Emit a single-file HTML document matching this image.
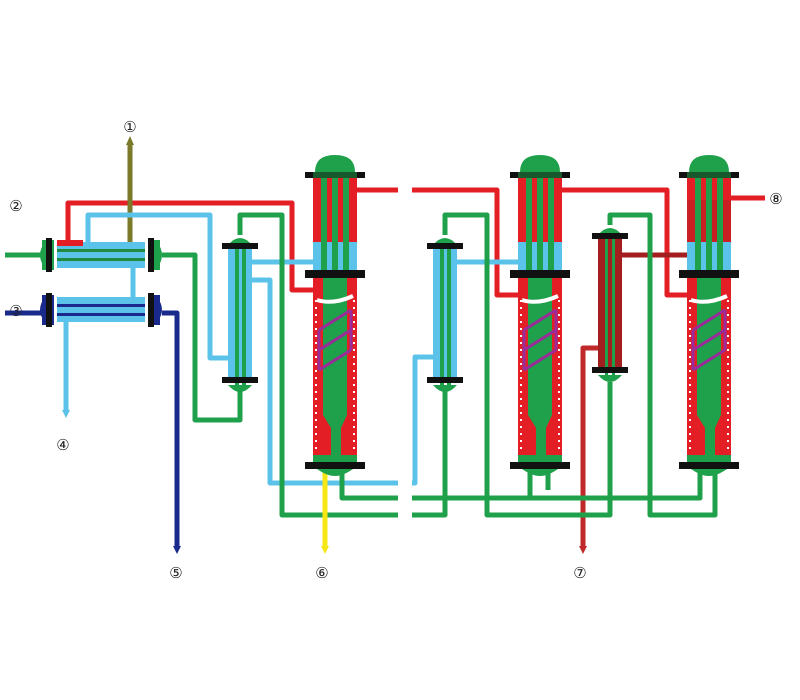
<!DOCTYPE html>
<html><head><meta charset="utf-8"><style>body{margin:0;background:#fff}svg{display:block}</style></head>
<body>
<svg width="800" height="700" viewBox="0 0 800 700" xmlns="http://www.w3.org/2000/svg" font-family="Liberation Sans, sans-serif">
<defs>
<g id="col">
  <path d="M2,172 Q2,155 22,155 Q42,155 42,172 Z" fill="#1fa04a"/>
  <rect x="0" y="178" width="44" height="64" fill="#e31e24"/>
  <rect x="0" y="242" width="44" height="28" fill="#5bc3ea"/>
  <rect x="8" y="160" width="6" height="112" fill="#1fa04a"/>
  <rect x="19" y="160" width="6" height="112" fill="#1fa04a"/>
  <rect x="30" y="160" width="6" height="112" fill="#1fa04a"/>
  <rect x="-8" y="172" width="60" height="6" fill="#111"/>
  <rect x="0" y="172" width="44" height="6" fill="#1fa04a" opacity="0.5"/>
  <rect x="0" y="278" width="44" height="177" fill="#e31e24"/>
  <path d="M10,278 H34 V415 L28,428 V455 H18 V428 L10,415 Z" fill="#1fa04a"/>
  <path d="M3,300 V450 M41,300 V450" stroke="#fff" stroke-width="2" stroke-dasharray="2 5"/>
  <path d="M6,330 L38,310 M6,350 L38,330 M6,370 L38,350 M6,330 V370 M38,310 V350" stroke="#9b2a9a" stroke-width="3" fill="none"/>
  <path d="M4,300 Q20,305 40,296" stroke="#fff" stroke-width="4" fill="none"/>
  <rect x="-8" y="270" width="60" height="8" fill="#111"/>
  <rect x="0" y="455" width="44" height="9" fill="#1fa04a"/>
  <rect x="-8" y="462" width="60" height="7" fill="#111"/>
  <path d="M4,469 H40 Q30,476 22,476 Q14,476 4,469Z" fill="#1fa04a"/>
</g>
<g id="ex">
  <path d="M0,10 Q12,-4 24,10 Z" fill="#1fa04a"/>
  <path d="M0,150 Q12,164 24,150 Z" fill="#1fa04a"/>
  <rect x="0" y="14" width="24" height="130" fill="#5bc3ea"/>
  <rect x="7" y="6" width="4" height="146" fill="#1fa04a"/>
  <rect x="14" y="6" width="4" height="146" fill="#1fa04a"/>
  <rect x="-6" y="8" width="36" height="6" fill="#111"/>
  <rect x="-6" y="142" width="36" height="6" fill="#111"/>
</g>
</defs>
<g fill="none" stroke-width="5" stroke-linejoin="round">
  <!-- red -->
  <path d="M68,243 V203 H292 V290 H315" stroke="#e31e24"/>
  <path d="M355,190 H398" stroke="#e31e24"/>
  <path d="M412,190 H497 V295 H520" stroke="#e31e24"/>
  <path d="M560,190 H667 V295 H690" stroke="#e31e24"/>
  <path d="M730,198 H765" stroke="#e31e24"/>
  <path d="M622,255 H690" stroke="#a31f1f"/>
  <path d="M600,348 H583 V548" stroke="#c0282a"/>
  <!-- olive -->
  <path d="M130,243 V142" stroke="#7a7a2a"/>
  <!-- light blue -->
  <path d="M88,242 V215 H210 V358 H230" stroke="#5bc3ea"/>
  <path d="M250,262 H315" stroke="#5bc3ea"/>
  <path d="M250,280 H270 V483 H398" stroke="#5bc3ea"/>
  <path d="M412,483 H415 V357 H435" stroke="#5bc3ea"/>
  <path d="M455,262 H520" stroke="#5bc3ea"/>
  <path d="M133,268 V297" stroke="#5bc3ea"/>
  <path d="M66,322 V412" stroke="#5bc3ea"/>
  <!-- dark blue -->
  <path d="M5,313 H42" stroke="#1a2a8c"/>
  <path d="M162,313 H177 V548" stroke="#1a2a8c"/>
  <!-- green -->
  <path d="M5,255 H42" stroke="#1fa04a"/>
  <path d="M162,255 H195 V420 H240 V385" stroke="#1fa04a"/>
  <path d="M240,235 V215 H282 V515 H398" stroke="#1fa04a"/>
  <path d="M342,469 V498 H398" stroke="#1fa04a"/>
  <path d="M412,498 H530 V469" stroke="#1fa04a"/>
  <path d="M530,498 H700 V469" stroke="#1fa04a"/>
  <path d="M412,515 H445 V385" stroke="#1fa04a"/>
  <path d="M445,235 V215 H487 V515 H610 V382" stroke="#1fa04a"/>
  <path d="M610,225 V215 H650 V515 H715 V469" stroke="#1fa04a"/>
  <path d="M548,469 V490" stroke="#1fa04a"/>
  <!-- yellow -->
  <path d="M325,469 V548" stroke="#f5e614"/>
</g>
<!-- arrows -->
<path d="M126,145 L130,136 L134,145Z" fill="#7a7a2a"/>
<path d="M62,410 L66,418 L70,410Z" fill="#5bc3ea"/>
<path d="M173,546 L177,554 L181,546Z" fill="#1a2a8c"/>
<path d="M321,546 L325,554 L329,546Z" fill="#f5e614"/>
<path d="M579,546 L583,554 L587,546Z" fill="#c0282a"/>
<!-- horizontal exchangers -->
<g>
  <rect x="57" y="242" width="88" height="26" fill="#5bc3ea"/>
  <rect x="57" y="249" width="88" height="3" fill="#1f8a40"/>
  <rect x="57" y="258" width="88" height="3" fill="#1f8a40"/>
  <rect x="57" y="240" width="26" height="6" fill="#e31e24"/>
  <path d="M45,242 Q35,255 45,268 Z M157,242 Q167,255 157,268 Z" fill="#1fa04a"/>
  <rect x="42" y="240" width="12" height="30" fill="#1fa04a"/>
  <rect x="148" y="240" width="12" height="30" fill="#1fa04a"/>
  <rect x="46" y="238" width="6" height="34" fill="#111"/>
  <rect x="148" y="238" width="6" height="34" fill="#111"/>
  <rect x="57" y="297" width="88" height="25" fill="#5bc3ea"/>
  <rect x="57" y="304" width="88" height="3" fill="#1a2a8c"/>
  <rect x="57" y="313" width="88" height="3" fill="#1a2a8c"/>
  <path d="M45,297 Q35,310 45,322 Z M157,297 Q167,310 157,322 Z" fill="#1a2a8c"/>
  <rect x="42" y="295" width="12" height="30" fill="#1a2a8c"/>
  <rect x="148" y="295" width="12" height="30" fill="#1a2a8c"/>
  <rect x="46" y="293" width="6" height="34" fill="#111"/>
  <rect x="148" y="293" width="6" height="34" fill="#111"/>
</g>
<use href="#ex" x="228" y="235"/>
<use href="#ex" x="433" y="235"/>
<g transform="translate(598,225)">
  <path d="M0,10 Q12,-4 24,10 Z" fill="#1fa04a"/>
  <path d="M0,150 Q12,164 24,150 Z" fill="#1fa04a"/>
  <rect x="0" y="14" width="24" height="130" fill="#a31f1f"/>
  <rect x="7" y="6" width="3" height="146" fill="#1fa04a"/>
  <rect x="14" y="6" width="3" height="146" fill="#1fa04a"/>
  <rect x="-6" y="8" width="36" height="6" fill="#111"/>
  <rect x="-6" y="142" width="36" height="6" fill="#111"/>
</g>
<use href="#col" x="313" y="0"/>
<use href="#col" x="518" y="0"/>
<g transform="translate(687,0)"><use href="#col"/><rect x="0" y="200" width="44" height="42" fill="#b81f22" opacity="0.6"/><rect x="8" y="178" width="6" height="92" fill="#1fa04a"/><rect x="19" y="178" width="6" height="92" fill="#1fa04a"/><rect x="30" y="178" width="6" height="92" fill="#1fa04a"/></g>
<!-- labels -->
<g font-size="15" text-anchor="middle" fill="#222">
  <text x="130" y="132">①</text>
  <text x="16" y="211">②</text>
  <text x="16" y="316">③</text>
  <text x="63" y="450">④</text>
  <text x="176" y="578">⑤</text>
  <text x="322" y="578">⑥</text>
  <text x="580" y="578">⑦</text>
  <text x="776" y="204">⑧</text>
</g>
</svg>
</body></html>
